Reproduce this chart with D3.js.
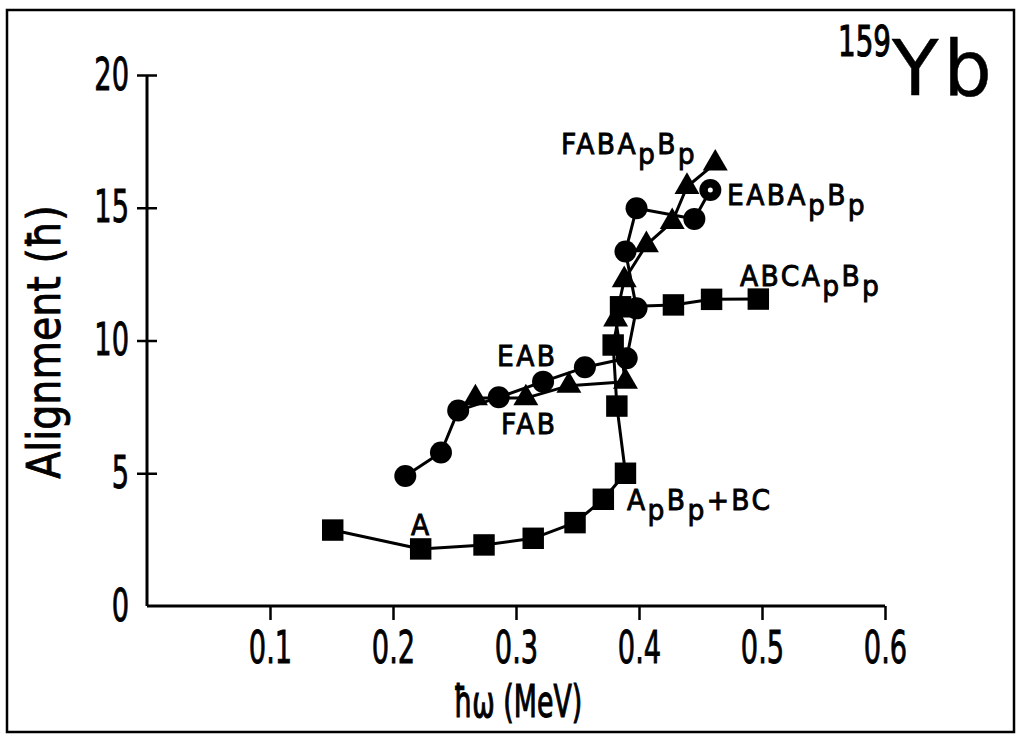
<!DOCTYPE html>
<html>
<head>
<meta charset="utf-8">
<script src="https://cdn.jsdelivr.net/npm/d3@7/dist/d3.min.js"></script>
<style>
  html, body { margin: 0; padding: 0; background: #fff; }
  svg { display: block; }
  text { font-family: "DejaVu Sans", sans-serif; fill: #000; stroke: #000; stroke-width: 0.9px; }
</style>
</head>
<body>
<svg id="chart" width="1021" height="737"></svg>
<script>
// ---- data ----
const xTicks = [0.1, 0.2, 0.3, 0.4, 0.5, 0.6];
const xTickLabels = ["0.1", "0.2", "0.3", "0.4", "0.5", "0.6"];
const yTicks = [0, 5, 10, 15, 20];
const yTickLabels = ["0", "5", "10", "15", "20"];

// squares: A -> ApBp+BC -> ABCApBp
const sqOmega = [0.151, 0.2225, 0.274, 0.314, 0.348, 0.371, 0.389, 0.382, 0.379, 0.385, 0.428, 0.459, 0.497];
const sqAlign = [2.86, 2.15, 2.30, 2.55, 3.14, 4.02, 5.00, 7.53, 9.83, 11.27, 11.34, 11.55, 11.56];

// circles: EAB -> EABApBp
const ciOmega = [0.210, 0.239, 0.253, 0.286, 0.322, 0.356, 0.390, 0.398, 0.389, 0.398, 0.445, 0.458];
const ciAlign = [4.90, 5.78, 7.36, 7.86, 8.45, 8.99, 9.33, 11.21, 13.35, 14.98, 14.58, 15.67];

// triangles: FAB -> FABApBp
const trOmega = [0.267, 0.308, 0.343, 0.389, 0.381, 0.388, 0.406, 0.427, 0.439, 0.462];
const trAlign = [7.83, 7.83, 8.30, 8.45, 10.80, 12.28, 13.60, 14.47, 15.79, 16.67];

// ---- layout ----
const svg = d3.select("#chart");
const x = d3.scaleLinear().domain([0, 0.6]).range([147, 885]);
const y = d3.scaleLinear().domain([0, 20]).range([606, 75]);
const NARROW = 0.62;

// frame
svg.append("rect").attr("x", 7).attr("y", 10).attr("width", 1007).attr("height", 722)
  .attr("fill", "none").attr("stroke", "#000").attr("stroke-width", 2.5);

// x axis
const gx = svg.append("g").attr("transform", `translate(0,${y(0)})`)
  .call(d3.axisBottom(x).tickValues(xTicks).tickFormat((d, i) => xTickLabels[i])
    .tickSize(14).tickSizeOuter(0).tickPadding(12));
gx.select(".domain").attr("stroke-width", 3).attr("d", `M${x(0)},0H${x(0.6)}`);
gx.selectAll(".tick line").attr("stroke-width", 2.5);
gx.selectAll(".tick text").attr("font-size", 44).attr("font-family", "DejaVu Sans")
  .attr("stroke", "#000").attr("stroke-width", 1.1)
  .attr("transform", `scale(${NARROW},1)`);

// y axis
const gy = svg.append("g").attr("transform", `translate(${x(0)},0)`)
  .call(d3.axisLeft(y).tickValues(yTicks).tickFormat((d, i) => yTickLabels[i])
    .tickSize(10).tickSizeOuter(0).tickPadding(9));
gy.select(".domain").attr("stroke-width", 3).attr("d", `M0,${y(20)}V${y(0)}`);
gy.selectAll(".tick line").attr("stroke-width", 2.5).attr("x2", d => d === 0 ? 0 : -10);
gy.selectAll(".tick").filter(d => d !== 0).append("line")
  .attr("x1", 0).attr("x2", 10).attr("stroke", "#000").attr("stroke-width", 2.5);
gy.selectAll(".tick text").attr("font-size", 44).attr("font-family", "DejaVu Sans")
  .attr("stroke", "#000").attr("stroke-width", 1.1)
  .attr("x", 0).attr("transform", `translate(-18,0) scale(${NARROW},1)`);

// helper for horizontally scaled text
function stext(px, py, rot, sx, size, anchor) {
  const g = svg.append("g").attr("transform", `translate(${px},${py}) rotate(${rot}) scale(${sx},1)`);
  return g.append("text").attr("font-size", size).attr("text-anchor", anchor);
}

// axis titles
stext(60, 342, -90, 0.86, 46, "middle").text("Alignment (ħ)");
stext(518, 717, 0, 0.61, 44, "middle").style("stroke-width", "1.2px").text("ħω (MeV)");

// nucleus label
stext(838, 56, 0, 0.66, 42, "start").style("stroke-width", "1.2px").text("159");
stext(892, 95, 0, 1, 76, "start").attr("letter-spacing", 5).style("stroke-width", "0.5px").text("Yb");

// series
function series(xs, ys) { return xs.map((v, i) => [v, ys[i]]); }
const line = d3.line().x(d => x(d[0])).y(d => y(d[1]));
const squares = series(sqOmega, sqAlign);
const circles = series(ciOmega, ciAlign);
const triangles = series(trOmega, trAlign);

[triangles, circles, squares].forEach(s => {
  svg.append("path").attr("d", line(s)).attr("fill", "none")
    .attr("stroke", "#000").attr("stroke-width", 3).attr("stroke-linejoin", "round");
});

svg.append("g").selectAll("path").data(triangles).join("path")
  .attr("transform", d => `translate(${x(d[0])},${y(d[1])})`)
  .attr("d", d3.symbol(d3.symbolTriangle, 270)).attr("fill", "#000");
svg.append("g").selectAll("circle").data(circles).join("circle")
  .attr("cx", d => x(d[0])).attr("cy", d => y(d[1])).attr("r", 11).attr("fill", "#000");
svg.append("g").selectAll("path").data(squares).join("path")
  .attr("transform", d => `translate(${x(d[0])},${y(d[1])})`)
  .attr("d", d3.symbol(d3.symbolSquare, 460)).attr("fill", "#000");
// open centre of last EAB circle
const lastC = circles[circles.length - 1];
svg.append("circle").attr("cx", x(lastC[0])).attr("cy", y(lastC[1])).attr("r", 2.5).attr("fill", "#fff");

// curve labels
function label(px, py, parts) {
  const t = stext(px, py, 0, 0.95, 28, "start").attr("letter-spacing", 2.5);
  let prev = 0;
  parts.forEach(([s, sub]) => {
    const off = sub ? 10 : 0;
    t.append("tspan").attr("dy", off - prev).text(s);
    prev = off;
  });
  return t;
}
label(561, 154, [["FABA", 0], ["p", 1], ["B", 0], ["p", 1]]);
label(727, 205, [["EABA", 0], ["p", 1], ["B", 0], ["p", 1]]);
label(740, 286, [["ABCA", 0], ["p", 1], ["B", 0], ["p", 1]]);
label(497, 366, [["EAB", 0]]);
label(501, 434, [["FAB", 0]]);
label(411, 535, [["A", 0]]);
label(627, 510, [["A", 0], ["p", 1], ["B", 0], ["p", 1], ["+BC", 0]]);
</script>
</body>
</html>
